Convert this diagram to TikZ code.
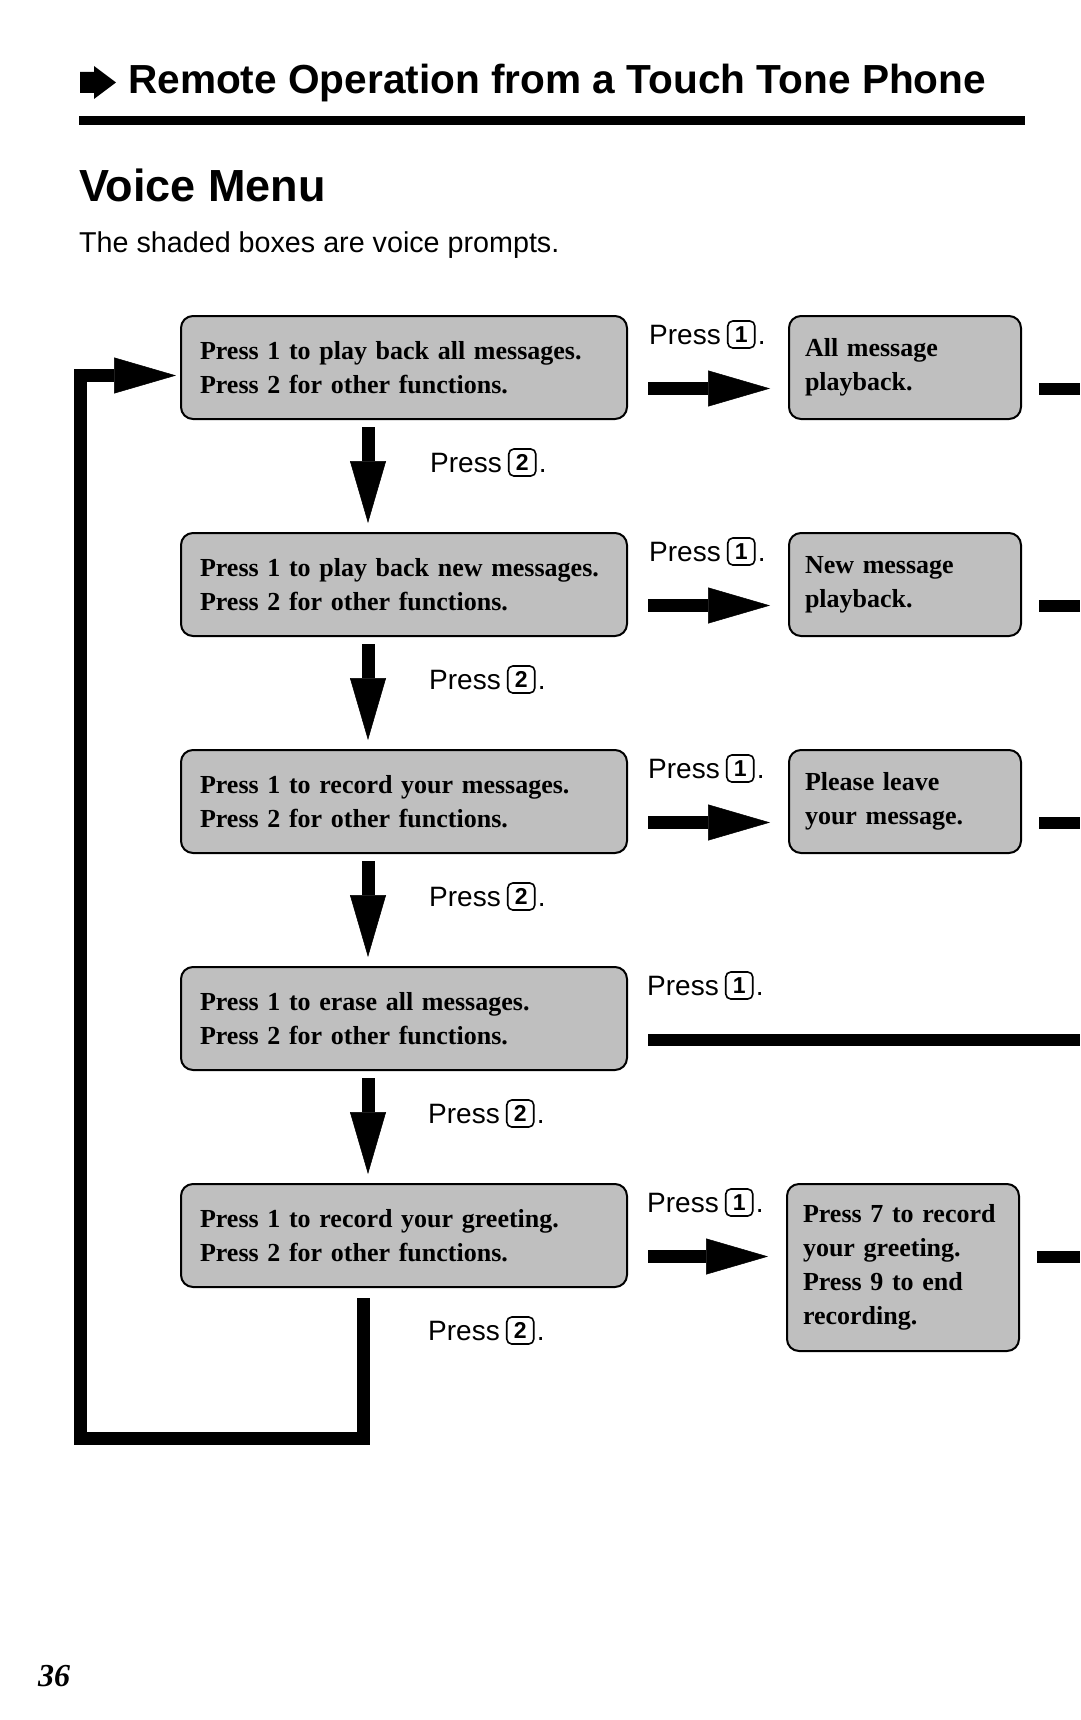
\documentclass[tikz,border=0pt]{standalone}
\usepackage{fontspec}
\setmainfont{Liberation Serif}
\setsansfont{Liberation Sans}
\usetikzlibrary{arrows.meta}
\usetikzlibrary{positioning}
\hyphenpenalty=10000

\begin{document}
\begin{tikzpicture}[x=1pt,y=1pt,
  prompt/.style={draw,line width=2pt,rounded corners=12pt,fill=black!25,anchor=north west,
    minimum height=103pt,inner xsep=19pt,text width=408pt,align=left,
    font=\bfseries\fontsize{26}{34}\selectfont},
  answer/.style={prompt,inner xsep=16pt,text width=200pt},
  press/.style={inner sep=0pt,anchor=base west,font=\sffamily\fontsize{28}{34}\selectfont},
  keycap/.style={draw,rounded corners=5pt,line width=1.6pt,inner sep=2pt,
    minimum width=27pt,minimum height=27pt,font=\sffamily\bfseries\fontsize{23}{27}\selectfont},
  fat/.style={line width=13pt,line join=miter,-{Triangle[length=62pt,width=36pt,line width=0.5pt]}},
  bar/.style={line width=12pt}]
\useasboundingbox (0,0) rectangle (1080,-1720);
\fill[white] (0,0) rectangle (1080,-1720);

% heading
\fill (80,-72) -- (94,-72) -- (94,-66) -- (116,-82.5) -- (94,-99) -- (94,-93) -- (80,-93) -- cycle;
\node[inner sep=0pt,anchor=base west,font=\sffamily\bfseries\fontsize{40.6}{48}\selectfont] (title) at (128,-94) {Remote Operation from a Touch Tone Phone};
\fill (79,-116) rectangle (1025,-125);
\node[inner sep=0pt,anchor=base west,font=\sffamily\bfseries\fontsize{45}{54}\selectfont] (menu) at (79,-202) {Voice Menu};
\node[inner sep=0pt,anchor=base west,font=\sffamily\fontsize{28.7}{34}\selectfont] (note) at (79,-252) {The shaded boxes are voice prompts.};

% voice prompts
\node[prompt] (b1) at (180,-315) {Press 1 to play back all messages.\\Press 2 for other functions.};
\node[prompt] (b2) at (180,-532) {Press 1 to play back new messages.\\Press 2 for other functions.};
\node[prompt] (b3) at (180,-749) {Press 1 to record your messages.\\Press 2 for other functions.};
\node[prompt] (b4) at (180,-966) {Press 1 to erase all messages.\\Press 2 for other functions.};
\node[prompt] (b5) at (180,-1183) {Press 1 to record your greeting.\\Press 2 for other functions.};

\node[answer] (r1) at (788,-315) {All message\\playback.};
\node[answer] (r2) at (788,-532) {New message\\playback.};
\node[answer] (r3) at (788,-749) {Please leave\\your message.};
\node[answer,minimum height=167pt] (r5) at (786,-1183) {Press 7 to record\\your greeting.\\Press 9 to end\\recording.};

% key labels
\node[press] (pa1) at (649,-344) {Press};\node[keycap,right=6pt of pa1] (ka1) {1};\node[press] (da1) at ([xshift=2pt]ka1.east |- pa1.base) {.};
\node[press] (pa2) at (649,-561) {Press};\node[keycap,right=6pt of pa2] (ka2) {1};\node[press] (da2) at ([xshift=2pt]ka2.east |- pa2.base) {.};
\node[press] (pa3) at (648,-778) {Press};\node[keycap,right=6pt of pa3] (ka3) {1};\node[press] (da3) at ([xshift=2pt]ka3.east |- pa3.base) {.};
\node[press] (pa4) at (647,-995) {Press};\node[keycap,right=6pt of pa4] (ka4) {1};\node[press] (da4) at ([xshift=2pt]ka4.east |- pa4.base) {.};
\node[press] (pa5) at (647,-1212) {Press};\node[keycap,right=6pt of pa5] (ka5) {1};\node[press] (da5) at ([xshift=2pt]ka5.east |- pa5.base) {.};

\node[press] (pb1) at (430,-472) {Press};\node[keycap,right=6pt of pb1] (kb1) {2};\node[press] (db1) at ([xshift=2pt]kb1.east |- pb1.base) {.};
\node[press] (pb2) at (429,-689) {Press};\node[keycap,right=6pt of pb2] (kb2) {2};\node[press] (db2) at ([xshift=2pt]kb2.east |- pb2.base) {.};
\node[press] (pb3) at (429,-906) {Press};\node[keycap,right=6pt of pb3] (kb3) {2};\node[press] (db3) at ([xshift=2pt]kb3.east |- pb3.base) {.};
\node[press] (pb4) at (428,-1123) {Press};\node[keycap,right=6pt of pb4] (kb4) {2};\node[press] (db4) at ([xshift=2pt]kb4.east |- pb4.base) {.};
\node[press] (pb5) at (428,-1340) {Press};\node[keycap,right=6pt of pb5] (kb5) {2};\node[press] (db5) at ([xshift=2pt]kb5.east |- pb5.base) {.};

% arrows
\coordinate (rim) at (1080,0);
\coordinate (loop) at (80,-1438);
\draw[fat] ([xshift=20pt,yshift=-21pt]b1.east) -- ([xshift=-18pt,yshift=-21pt]r1.west);
\draw[fat] ([xshift=20pt,yshift=-21pt]b2.east) -- ([xshift=-18pt,yshift=-21pt]r2.west);
\draw[fat] ([xshift=20pt,yshift=-21pt]b3.east) -- ([xshift=-18pt,yshift=-21pt]r3.west);
\draw[bar] ([xshift=20pt,yshift=-21pt]b4.east) -- ([yshift=-21pt]b4.east -| rim);
\draw[fat] ([xshift=20pt,yshift=-21pt]b5.east) -- ([xshift=-18pt,yshift=-21pt]b5.east -| r5.west);

\draw[bar] ([xshift=17pt,yshift=-21pt]r1.east) -- ([yshift=-21pt]r1.east -| rim);
\draw[bar] ([xshift=17pt,yshift=-21pt]r2.east) -- ([yshift=-21pt]r2.east -| rim);
\draw[bar] ([xshift=17pt,yshift=-21pt]r3.east) -- ([yshift=-21pt]r3.east -| rim);
\draw[bar] ([xshift=17pt,yshift=-21pt]b5.east -| r5.east) -- ([yshift=-21pt]b5.east -| rim);

\draw[fat] ([xshift=188pt,yshift=-7pt]b1.south west) -- ([xshift=188pt,yshift=9pt]b2.north west);
\draw[fat] ([xshift=188pt,yshift=-7pt]b2.south west) -- ([xshift=188pt,yshift=9pt]b3.north west);
\draw[fat] ([xshift=188pt,yshift=-7pt]b3.south west) -- ([xshift=188pt,yshift=9pt]b4.north west);
\draw[fat] ([xshift=188pt,yshift=-7pt]b4.south west) -- ([xshift=188pt,yshift=9pt]b5.north west);
\draw[fat] ([xshift=183pt,yshift=-10pt]b5.south west) |- (loop) |- ([xshift=-4pt,yshift=-8pt]b1.west);

\node[inner sep=0pt,anchor=base west,font=\bfseries\itshape\fontsize{32}{38}\selectfont] (page) at (38,-1686) {36};
\end{tikzpicture}
\end{document}
